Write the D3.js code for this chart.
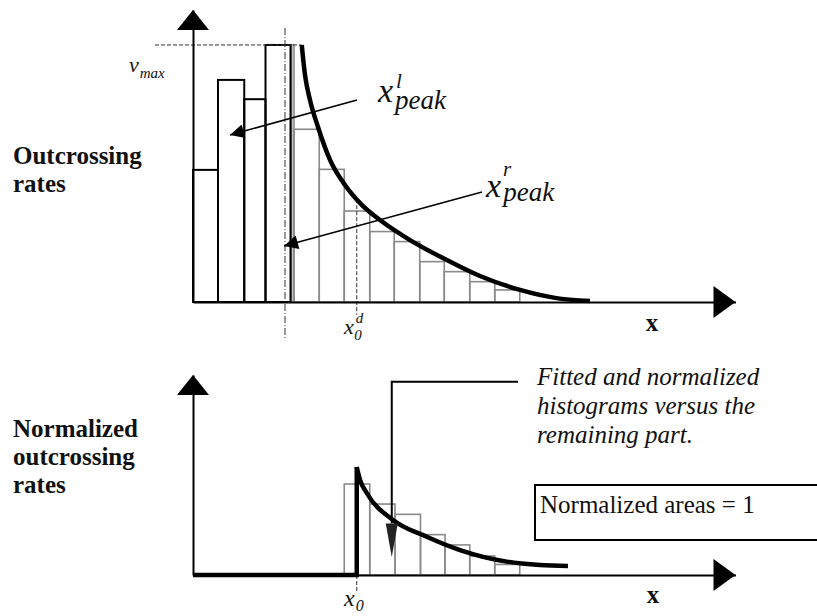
<!DOCTYPE html>
<html>
<head>
<meta charset="utf-8">
<script src="https://cdn.jsdelivr.net/npm/d3@7"></script>
<style>
  body { margin: 0; background: #fff; }
  svg { display: block; }
  text { font-family: "Liberation Serif", "Times New Roman", serif; fill: #111; }
  .axis path.domain { stroke: #000; stroke-width: 2; }
  .it { font-style: italic; }
</style>
</head>
<body>
<svg id="chart" width="817" height="616"></svg>
<script>
(function(d3) {
  'use strict';

  // top panel, measured rates (bin edges in bin units, heights as v / v_max)
  var leftEdges = [0, 1, 2.05, 2.9, 3.9];
  var leftRates = [0.514, 0.864, 0.789, 1.0];
  var rightEdges = [3.95, 4.04, 5.05, 6.05, 7.07, 8.05, 9.07, 10.05, 11.07, 12.07, 13.07];
  var rightRates = [1.0, 0.672, 0.516, 0.354, 0.274, 0.235, 0.157, 0.118, 0.079, 0.047];
  // fitted curve on the right part
  var fitX = [4.35, 4.48, 4.68, 5.0, 5.48, 6.08, 6.76, 7.48, 8.68, 10.08, 11.48, 13.08, 14.48, 15.88];
  var fitY = [1.0, 0.883, 0.786, 0.681, 0.553, 0.455, 0.377, 0.319, 0.241, 0.167, 0.101, 0.047, 0.016, 0.004];

  // bottom panel, normalized part beyond x0
  var normEdges = [6.05, 7.07, 8.08, 9.1, 10.08, 11.07, 12.07, 13.07];
  var normRates = [0.354, 0.276, 0.236, 0.157, 0.117, 0.074, 0.041];
  var normFitX = [6.55, 6.68, 6.95, 8.0, 9.35, 10.68, 12.55, 13.88, 15.0];
  var normFitY = [0.42, 0.37, 0.319, 0.214, 0.149, 0.097, 0.052, 0.039, 0.035];

  var xPeakR = 3.68;   // dash-dot line
  var x0 = 6.55;       // x0 / x0^d
  var vMax = 1.0;

  var svg = d3.select('#chart');

  var x = d3.scaleLinear().domain([0, 21.7]).range([193, 735.5]);
  var yTop = d3.scaleLinear().domain([0, 1.136]).range([302, 10]);
  var yBot = d3.scaleLinear().domain([0, 0.778]).range([575, 375]);

  var defs = svg.append('defs');
  defs.append('marker')
      .attr('id', 'head')
      .attr('viewBox', '0 0 10 10')
      .attr('refX', 10).attr('refY', 5)
      .attr('markerUnits', 'userSpaceOnUse')
      .attr('markerWidth', 21).attr('markerHeight', 14)
      .attr('orient', 'auto')
    .append('path')
      .attr('d', 'M0,0L10,5L0,10Z')
      .attr('fill', '#000');

  function bars(edges, vals, y, color, sw) {
    svg.append('g').selectAll('rect')
      .data(vals)
      .enter().append('rect')
        .attr('x', function(d, i) { return x(edges[i]); })
        .attr('width', function(d, i) { return x(edges[i + 1]) - x(edges[i]); })
        .attr('y', function(d) { return y(d); })
        .attr('height', function(d) { return y(0) - y(d); })
        .attr('fill', 'none')
        .attr('stroke', color)
        .attr('stroke-width', sw);
  }

  function axes(y) {
    svg.append('g')
        .attr('class', 'axis')
        .attr('transform', 'translate(0,' + y(0) + ')')
        .call(d3.axisBottom(x).tickValues([]).tickSizeOuter(0));
    svg.append('g')
        .attr('class', 'axis')
        .attr('transform', 'translate(' + x(0) + ',0)')
        .call(d3.axisLeft(y).tickValues([]).tickSizeOuter(0));

    var xe = x.range()[1], ye = y.range()[1], ox = x(0), oy = y(0);
    svg.append('path')
        .attr('d', 'M' + xe + ',' + oy + 'L' + (xe - 22) + ',' + (oy - 16) +
                   'L' + (xe - 22) + ',' + (oy + 16) + 'Z');
    svg.append('path')
        .attr('d', 'M' + ox + ',' + ye + 'L' + (ox - 16) + ',' + (ye + 20) +
                   'L' + (ox + 16) + ',' + (ye + 20) + 'Z');
  }

  function label(px, py, str, size, cls, anchor) {
    return svg.append('text')
        .attr('x', px).attr('y', py)
        .attr('class', cls || null)
        .attr('font-size', size)
        .attr('text-anchor', anchor || 'start')
        .text(str);
  }

  // symbol with a superscript and/or subscript, kept in one text element
  // parts: [string, font-size, dx, dy]
  function symbol(px, py, parts) {
    var t = svg.append('text')
        .attr('x', px).attr('y', py)
        .attr('class', 'it');
    parts.forEach(function(p) {
      t.append('tspan')
          .attr('font-size', p[1])
          .attr('dx', p[2])
          .attr('dy', p[3])
          .text(p[0]);
    });
    return t;
  }

  // ---- top panel ----
  bars(rightEdges, rightRates, yTop, '#8a8a8a', 1.6);
  bars(leftEdges, leftRates, yTop, '#000', 2);

  // v_max guide
  svg.append('line')
      .attr('x1', x(-1.52)).attr('x2', x(fitX[0]))
      .attr('y1', yTop(vMax)).attr('y2', yTop(vMax))
      .attr('stroke', '#333').attr('stroke-width', 1)
      .attr('stroke-dasharray', '4,2');

  // dash-dot line at the right peak
  svg.append('line')
      .attr('x1', x(xPeakR)).attr('x2', x(xPeakR))
      .attr('y1', yTop(1.066)).attr('y2', yTop(-0.148))
      .attr('stroke', '#333').attr('stroke-width', 1)
      .attr('stroke-dasharray', '7,2,1,2');

  // x0^d guide
  svg.append('line')
      .attr('x1', x(x0)).attr('x2', x(x0))
      .attr('y1', yTop(0.4)).attr('y2', yTop(-0.05))
      .attr('stroke', '#333').attr('stroke-width', 1)
      .attr('stroke-dasharray', '4,2');

  var fitTop = fitX.map(function(d, i) { return [d, fitY[i]]; });
  var lineTop = d3.line()
      .x(function(d) { return x(d[0]); })
      .y(function(d) { return yTop(d[1]); })
      .curve(d3.curveMonotoneX);
  svg.append('path')
      .attr('d', lineTop(fitTop))
      .attr('fill', 'none')
      .attr('stroke', '#000')
      .attr('stroke-width', 4.5);

  axes(yTop);

  // peak arrows
  svg.append('line')
      .attr('x1', 357).attr('y1', 100).attr('x2', 230).attr('y2', 135)
      .attr('stroke', '#000').attr('stroke-width', 1.5)
      .attr('marker-end', 'url(#head)');
  svg.append('line')
      .attr('x1', 482).attr('y1', 192).attr('x2', 284).attr('y2', 246)
      .attr('stroke', '#000').attr('stroke-width', 1.5)
      .attr('marker-end', 'url(#head)');

  symbol(378, 102, [['x', 34, 0, 0], ['l', 21, 3, -14], ['peak', 27, -7, 21]]);
  symbol(486, 197, [['x', 34, 0, 0], ['r', 21, 2, -21], ['peak', 27, -8, 25]]);

  symbol(129, 72, [['\u03bd', 22, 0, 0], ['max', 15, 1, 6]]);
  symbol(344, 334, [['x', 22, 0, 0], ['d', 15, 2, -11], ['0', 15, -9, 17]]);

  label(652, 331, 'x', 25, null, 'middle').attr('font-weight', 'bold');

  label(13, 164, 'Outcrossing', 25).attr('font-weight', 'bold');
  label(13, 192, 'rates', 25).attr('font-weight', 'bold');

  // ---- bottom panel ----
  bars(normEdges, normRates, yBot, '#8a8a8a', 1.6);

  svg.append('line')
      .attr('x1', x(x0)).attr('x2', x(x0))
      .attr('y1', yBot(0)).attr('y2', yBot(-0.07))
      .attr('stroke', '#333').attr('stroke-width', 1)
      .attr('stroke-dasharray', '4,2');

  axes(yBot);

  var lineBot = d3.line()
      .x(function(d) { return x(d[0]); })
      .y(function(d) { return yBot(d[1]); });
  svg.append('path')
      .attr('d', lineBot([[0, 0], [x0, 0], [x0, normFitY[0]]]))
      .attr('fill', 'none')
      .attr('stroke', '#000')
      .attr('stroke-width', 4.5);
  svg.append('path')
      .attr('d', lineBot.curve(d3.curveMonotoneX)(normFitX.map(function(d, i) { return [d, normFitY[i]]; })))
      .attr('fill', 'none')
      .attr('stroke', '#000')
      .attr('stroke-width', 4.5);

  // callout from the text down into the histogram
  var cx = x(7.95);
  svg.append('path')
      .attr('d', 'M' + x(13) + ',' + yBot(0.752) + 'H' + cx + 'V' + yBot(0.2))
      .attr('fill', 'none')
      .attr('stroke', '#000')
      .attr('stroke-width', 2);
  svg.append('path')
      .attr('d', 'M' + cx + ',' + yBot(0.07) + 'L' + (cx - 6) + ',' + yBot(0.2) +
                 'L' + (cx + 6) + ',' + yBot(0.2) + 'Z')
      .attr('fill', '#222');

  label(537, 385, 'Fitted and normalized', 25, 'it');
  label(537, 414, 'histograms versus the', 25, 'it');
  label(537, 443, 'remaining part.', 25, 'it');

  svg.append('rect')
      .attr('x', 535).attr('y', 485)
      .attr('width', 320).attr('height', 55)
      .attr('fill', 'none')
      .attr('stroke', '#000')
      .attr('stroke-width', 2);
  label(540, 513, 'Normalized areas = 1', 25);

  symbol(344, 606, [['x', 24, 0, 0], ['0', 16, 1, 5]]);

  label(653, 603, 'x', 25, null, 'middle').attr('font-weight', 'bold');

  label(13, 437, 'Normalized', 25).attr('font-weight', 'bold');
  label(13, 465, 'outcrossing', 25).attr('font-weight', 'bold');
  label(13, 493, 'rates', 25).attr('font-weight', 'bold');
})(window.d3);
</script>
</body>
</html>
